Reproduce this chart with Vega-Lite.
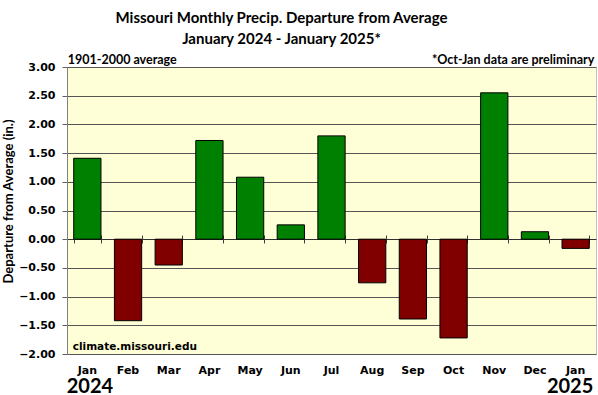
{
  "$schema": "https://vega.github.io/schema/vega-lite/v6.json",
  "width": 529,
  "height": 287,
  "autosize": "none",
  "padding": {"left": 67, "top": 67, "right": 2, "bottom": 41},
  "background": "white",
  "title": {
    "text": ["Missouri Monthly Precip. Departure from Average", "January 2024 - January 2025*"],
    "font": "Lato",
    "fontSize": 15,
    "fontWeight": "bold",
    "color": "black",
    "anchor": "middle",
    "dx": -50,
    "offset": 7,
    "lineHeight": 21
  },
  "config": {
    "view": {"stroke": "#c0c0c0", "fill": "#FFFFD7"},
    "axis": {"labelColor": "black", "titleColor": "black"}
  },
  "data": {
    "values": [
      {"m": "Jan 2024", "v": 1.41},
      {"m": "Feb", "v": -1.42},
      {"m": "Mar", "v": -0.45},
      {"m": "Apr", "v": 1.72},
      {"m": "May", "v": 1.08},
      {"m": "Jun", "v": 0.25},
      {"m": "Jul", "v": 1.80},
      {"m": "Aug", "v": -0.76},
      {"m": "Sep", "v": -1.39},
      {"m": "Oct", "v": -1.72},
      {"m": "Nov", "v": 2.55},
      {"m": "Dec", "v": 0.13},
      {"m": "Jan 2025", "v": -0.16}
    ]
  },
  "layer": [
    {
      "mark": {"type": "bar", "stroke": "black", "strokeWidth": 1},
      "encoding": {
        "x": {
          "field": "m",
          "type": "nominal",
          "scale": {
            "domain": ["Jan 2024", "Feb", "Mar", "Apr", "May", "Jun", "Jul", "Aug", "Sep", "Oct", "Nov", "Dec", "Jan 2025"],
            "paddingInner": 0.33,
            "paddingOuter": 0.165
          },
          "axis": {
            "orient": "bottom",
            "title": null,
            "labelExpr": "slice(datum.value, 0, 3)",
            "labelAngle": 0,
            "ticks": false,
            "domain": false,
            "labelPadding": 10,
            "labelFont": "DejaVu Sans",
            "labelFontSize": 11,
            "labelFontWeight": "bold"
          }
        },
        "y": {
          "field": "v",
          "type": "quantitative",
          "scale": {"domain": [-2, 3], "nice": false},
          "axis": {
            "orient": "left",
            "title": "Departure from Average (in.)",
            "titleFont": "Lato",
            "titleFontSize": 13,
            "titleFontWeight": "bold",
            "titlePadding": 3,
            "titleY": 134,
            "values": [-2, -1.5, -1, -0.5, 0, 0.5, 1, 1.5, 2, 2.5, 3],
            "format": ".2f",
            "labelFont": "DejaVu Sans",
            "labelFontSize": 11,
            "labelFontWeight": "bold",
            "labelPadding": 7,
            "tickSize": 5,
            "tickColor": "#606060",
            "domainColor": "#808080",
            "grid": true,
            "gridColor": {"condition": {"test": "datum.value === 0", "value": "#303030"}, "value": "#555555"},
            "gridWidth": 1
          }
        },
        "color": {
          "condition": {"test": "datum.v < 0", "value": "#800000"},
          "value": "#008000"
        }
      }
    },
    {
      "mark": {"type": "bar", "opacity": 0},
      "encoding": {
        "x": {
          "field": "m",
          "type": "nominal",
          "axis": {
            "orient": "bottom",
            "title": null,
            "labels": false,
            "domain": false,
            "grid": false,
            "ticks": true,
            "tickBand": "extent",
            "tickSize": 8,
            "tickColor": "#404040",
            "offset": -119
          }
        }
      }
    },
    {
      "data": {"values": [{}]},
      "mark": {"type": "text", "align": "left", "baseline": "alphabetic", "dx": -6, "dy": -3, "font": "Lato", "fontSize": 12.5, "fontWeight": "bold", "color": "black"},
      "encoding": {
        "x": {"datum": "Jan 2024", "type": "nominal", "bandPosition": 0, "axis": null},
        "y": {"datum": 3, "axis": null},
        "text": {"value": "1901-2000 average"}
      }
    },
    {
      "data": {"values": [{}]},
      "mark": {"type": "text", "align": "right", "baseline": "alphabetic", "dx": 5, "dy": -3, "font": "Lato", "fontSize": 12.5, "fontWeight": "bold", "color": "black"},
      "encoding": {
        "x": {"datum": "Jan 2025", "type": "nominal", "bandPosition": 1, "axis": null},
        "y": {"datum": 3, "axis": null},
        "text": {"value": "*Oct-Jan data are preliminary"}
      }
    },
    {
      "data": {"values": [{}]},
      "mark": {"type": "text", "align": "left", "baseline": "alphabetic", "dx": -1, "dy": -4, "font": "DejaVu Sans", "fontSize": 10.5, "fontWeight": "bold", "color": "black"},
      "encoding": {
        "x": {"datum": "Jan 2024", "type": "nominal", "bandPosition": 0, "axis": null},
        "y": {"datum": -2, "axis": null},
        "text": {"value": "climate.missouri.edu"}
      }
    },
    {
      "data": {"values": [{}]},
      "mark": {"type": "text", "align": "left", "baseline": "alphabetic", "dx": -7, "dy": 39, "font": "Lato", "fontSize": 20, "fontWeight": "bold", "color": "black"},
      "encoding": {
        "x": {"datum": "Jan 2024", "type": "nominal", "bandPosition": 0, "axis": null},
        "y": {"datum": -2, "axis": null},
        "text": {"value": "2024"}
      }
    },
    {
      "data": {"values": [{}]},
      "mark": {"type": "text", "align": "right", "baseline": "alphabetic", "dx": 4, "dy": 39, "font": "Lato", "fontSize": 20, "fontWeight": "bold", "color": "black"},
      "encoding": {
        "x": {"datum": "Jan 2025", "type": "nominal", "bandPosition": 1, "axis": null},
        "y": {"datum": -2, "axis": null},
        "text": {"value": "2025"}
      }
    }
  ],
  "resolve": {"axis": {"x": "independent", "y": "independent"}}
}
